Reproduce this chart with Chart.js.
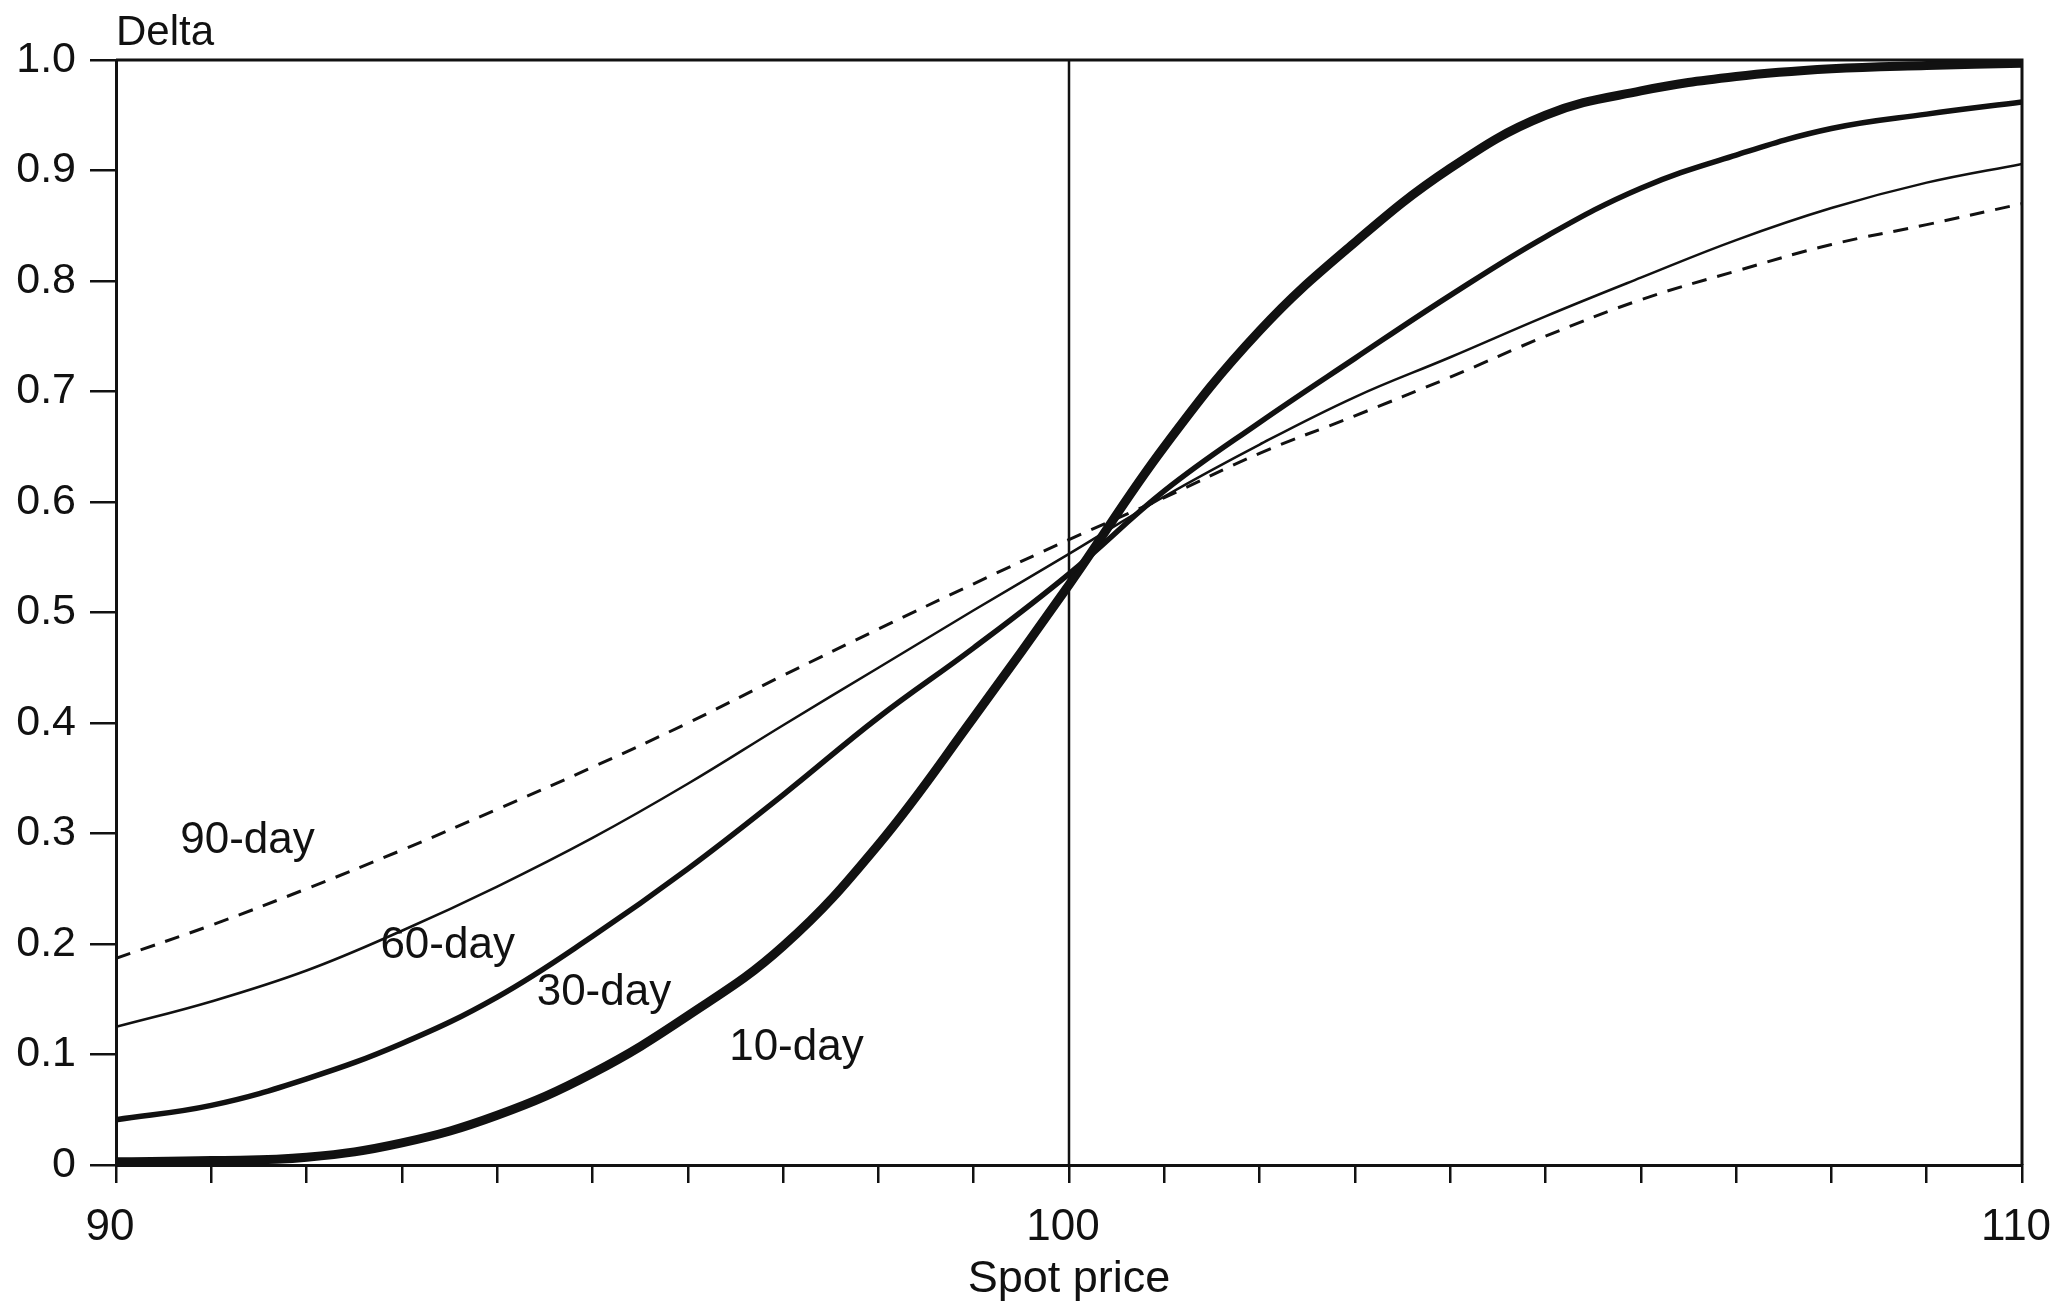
<!DOCTYPE html>
<html>
<head>
<meta charset="utf-8">
<script src="https://cdn.jsdelivr.net/npm/chart.js@4.4.1/dist/chart.umd.min.js"></script>
<style>
  html, body { margin: 0; padding: 0; background: #ffffff; }
  #wrap { width: 2063px; height: 1307px; }
</style>
</head>
<body>
<div id="wrap"><canvas id="c" width="2063" height="1307"></canvas></div>
<script>
// ---- data ----
const spot = [90,91,92,93,94,95,96,97,98,99,100,101,102,103,104,105,106,107,108,109,110];
const delta10 = [0.003,0.004,0.007,0.020,0.045,0.083,0.135,0.198,0.290,0.405,0.525,0.650,0.755,0.835,0.902,0.950,0.972,0.985,0.992,0.995,0.997];
const delta30 = [0.041,0.054,0.078,0.110,0.152,0.207,0.268,0.335,0.405,0.468,0.535,0.610,0.672,0.730,0.787,0.840,0.884,0.914,0.938,0.951,0.962];
const delta60 = [0.125,0.148,0.176,0.212,0.252,0.296,0.345,0.398,0.450,0.502,0.553,0.605,0.652,0.695,0.731,0.768,0.803,0.837,0.866,0.889,0.906];
const delta90 = [0.187,0.217,0.250,0.285,0.322,0.360,0.400,0.443,0.485,0.526,0.566,0.604,0.644,0.678,0.713,0.750,0.783,0.809,0.833,0.851,0.870];
const seriesNames = ['10-day','30-day','60-day','90-day'];
const xTickLabels = [90, 100, 110];
const refSpot = 100;
const labelText = ['90-day','60-day','30-day','10-day'];
const labelSpot = [91.38, 93.48, 95.12, 97.14];
const labelDelta = [0.293, 0.198, 0.156, 0.106];

const FONT = '"Liberation Sans", Arial, Helvetica, sans-serif';

function pts(arr) { return spot.map((s, i) => ({ x: s, y: arr[i] })); }

const frame = {
  id: 'frame',
  afterDatasetsDraw(chart) {
    const { ctx, chartArea: a, scales } = chart;
    ctx.save();
    ctx.strokeStyle = '#111';
    // vertical reference line
    const xp = scales.x.getPixelForValue(refSpot);
    ctx.lineWidth = 2.5;
    ctx.beginPath();
    ctx.moveTo(xp, scales.y.getPixelForValue(0));
    ctx.lineTo(xp, scales.y.getPixelForValue(1));
    ctx.stroke();
    // top & right border
    ctx.lineWidth = 3;
    ctx.beginPath();
    ctx.moveTo(a.left, a.top);
    ctx.lineTo(a.right, a.top);
    ctx.lineTo(a.right, a.bottom);
    ctx.stroke();
    // curve labels
    ctx.fillStyle = '#111';
    ctx.font = '44px ' + FONT;
    ctx.textAlign = 'center';
    ctx.textBaseline = 'middle';
    labelText.forEach((t, i) => {
      ctx.fillText(t, scales.x.getPixelForValue(labelSpot[i]), scales.y.getPixelForValue(labelDelta[i]));
    });
    // axis title "Delta"
    ctx.font = '42px ' + FONT;
    ctx.textAlign = 'left';
    ctx.textBaseline = 'alphabetic';
    ctx.fillText('Delta', a.left, a.top - 15);
    ctx.restore();
  }
};

new Chart(document.getElementById('c'), {
  type: 'line',
  data: {
    datasets: [
      { label: seriesNames[3], data: pts(delta90), borderColor: '#111', borderWidth: 3, borderDash: [15, 11] },
      { label: seriesNames[2], data: pts(delta60), borderColor: '#111', borderWidth: 2.5 },
      { label: seriesNames[1], data: pts(delta30), borderColor: '#111', borderWidth: 5.5 },
      { label: seriesNames[0], data: pts(delta10), borderColor: '#111', borderWidth: 9 }
    ]
  },
  options: {
    responsive: false,
    animation: false,
    devicePixelRatio: 1,
    elements: {
      point: { radius: 0 },
      line: { tension: 0.4, fill: false }
    },
    layout: { padding: { left: 0, top: 60, right: 41, bottom: 0 } },
    plugins: { legend: { display: false }, tooltip: { enabled: false }, title: { display: false } },
    scales: {
      x: {
        type: 'linear', min: 90, max: 110,
        afterFit(s) { s.height = 142; s.paddingLeft = 0; s.paddingRight = 0; },
        ticks: {
          stepSize: 1, autoSkip: false, maxRotation: 0, padding: 18, labelOffset: -6,
          color: '#111', font: { size: 44, family: FONT },
          callback: (v) => xTickLabels.includes(v) ? String(v) : ''
        },
        grid: { drawOnChartArea: false, drawTicks: true, tickLength: 18, color: '#111', lineWidth: 2.5 },
        border: { display: true, color: '#111', width: 3 },
        title: { display: true, text: 'Spot price', color: '#111', font: { size: 45, family: FONT }, padding: { top: 0, bottom: 0 } }
      },
      y: {
        type: 'linear', min: 0, max: 1,
        afterFit(s) { s.width = 116; },
        ticks: {
          stepSize: 0.1, padding: 14,
          color: '#111', font: { size: 43, family: FONT },
          callback: (v) => (Math.abs(v) < 1e-9 ? '0' : v.toFixed(1))
        },
        grid: { drawOnChartArea: false, drawTicks: true, tickLength: 26, color: '#111', lineWidth: 2.5 },
        border: { display: true, color: '#111', width: 3 }
      }
    }
  },
  plugins: [frame]
});
</script>
</body>
</html>
